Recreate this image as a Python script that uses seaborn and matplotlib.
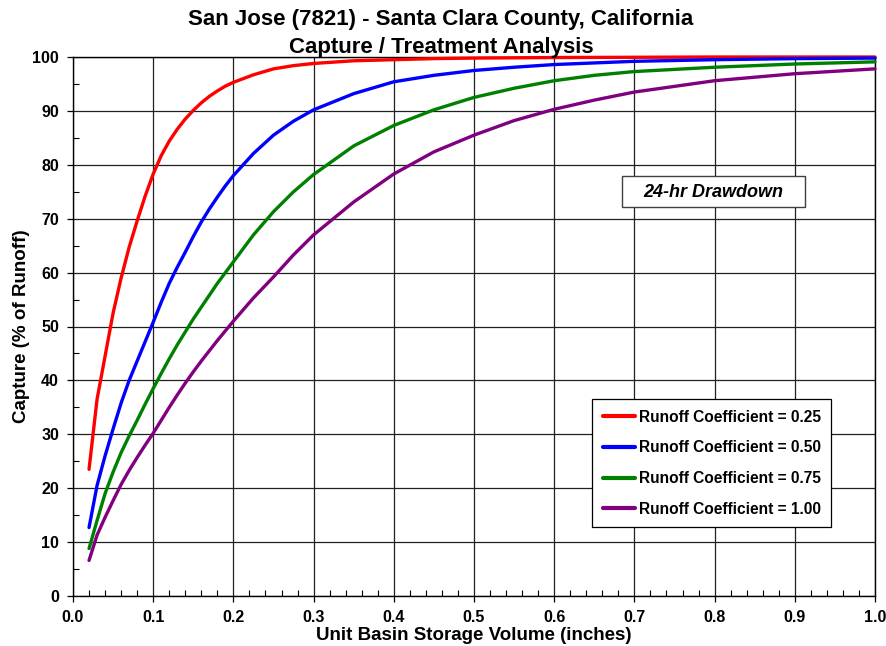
import matplotlib
matplotlib.use("Agg")
import matplotlib.pyplot as plt
from matplotlib.ticker import MultipleLocator, FormatStrFormatter
from matplotlib.patches import Rectangle
import seaborn as sns
import pandas as pd

# storage volume (inches) where the curves were read
volume = [0.02, 0.03, 0.04, 0.05, 0.06, 0.07, 0.08, 0.09, 0.10, 0.11, 0.12, 0.13, 0.14,
          0.15, 0.16, 0.17, 0.18, 0.19, 0.20, 0.225, 0.25, 0.275, 0.30, 0.35, 0.40, 0.45,
          0.50, 0.55, 0.60, 0.65, 0.70, 0.80, 0.90, 1.00]

# capture (% of runoff) per runoff coefficient
cap_025 = [23.5, 36.5, 44.5, 52.5, 59.0, 64.7, 69.6, 74.2, 78.3, 81.7, 84.4, 86.6, 88.5,
           90.1, 91.5, 92.7, 93.7, 94.6, 95.3, 96.7, 97.8, 98.4, 98.8, 99.3, 99.5, 99.7,
           99.8, 99.85, 99.9, 99.92, 99.95, 100.0, 100.0, 100.0]
cap_050 = [12.7, 20.5, 26.0, 31.0, 35.8, 40.0, 43.6, 47.2, 50.8, 54.5, 58.0, 61.0, 63.8,
           66.7, 69.4, 71.8, 74.0, 76.1, 78.0, 82.1, 85.5, 88.1, 90.2, 93.2, 95.4, 96.6,
           97.5, 98.1, 98.6, 98.9, 99.2, 99.5, 99.7, 99.8]
cap_075 = [8.8, 14.0, 19.0, 23.0, 26.6, 29.7, 32.6, 35.6, 38.5, 41.3, 44.0, 46.6, 49.0,
           51.4, 53.6, 55.8, 58.0, 60.0, 62.0, 67.0, 71.3, 75.0, 78.2, 83.5, 87.3, 90.2,
           92.5, 94.2, 95.6, 96.6, 97.3, 98.1, 98.7, 99.1]
cap_100 = [6.6, 11.3, 14.6, 17.7, 20.7, 23.3, 25.7, 28.0, 30.2, 32.6, 35.0, 37.3, 39.5,
           41.6, 43.6, 45.5, 47.4, 49.2, 51.0, 55.3, 59.2, 63.3, 67.0, 73.1, 78.3, 82.4,
           85.5, 88.2, 90.3, 92.0, 93.5, 95.6, 96.9, 97.8]

labels = ["Runoff Coefficient = 0.25", "Runoff Coefficient = 0.50",
          "Runoff Coefficient = 0.75", "Runoff Coefficient = 1.00"]
colors = ["#ff0000", "#0000ff", "#008000", "#800080"]

frames = []
for lab, vals in zip(labels, [cap_025, cap_050, cap_075, cap_100]):
    frames.append(pd.DataFrame({"volume": volume, "capture": vals, "series": lab}))
df = pd.concat(frames, ignore_index=True)

sns.set_style("white")
plt.rcParams["font.family"] = ["Liberation Sans", "DejaVu Sans"]
plt.rcParams["font.weight"] = "bold"
plt.rcParams["text.color"] = "black"
plt.rcParams["axes.labelcolor"] = "black"
plt.rcParams["xtick.color"] = "black"
plt.rcParams["ytick.color"] = "black"

fig = plt.figure(figsize=(8.87, 6.46), dpi=100)
ax = fig.add_axes([73 / 887, 50 / 646, 802 / 887, 539 / 646])

sns.lineplot(data=df, x="volume", y="capture", hue="series", palette=colors,
             linewidth=2.4, ax=ax, legend=True, solid_capstyle="round")
for ln in ax.lines:
    ln.set_clip_on(False)
    ln.set_zorder(3)

ax.set_xlim(0, 1.0)
ax.set_ylim(0, 100)
ax.xaxis.set_major_locator(MultipleLocator(0.1))
ax.xaxis.set_minor_locator(MultipleLocator(0.02))
ax.yaxis.set_major_locator(MultipleLocator(10))
ax.yaxis.set_minor_locator(MultipleLocator(5))
ax.xaxis.set_major_formatter(FormatStrFormatter("%.1f"))
ax.yaxis.set_major_formatter(FormatStrFormatter("%d"))
ax.grid(True, which="major", color="#202020", linewidth=0.9)
ax.set_axisbelow(True)
ax.tick_params(which="major", direction="out", length=4, width=0.9, labelsize=11.5,
               colors="black", bottom=True, left=True, pad=6)
ax.tick_params(which="minor", direction="in", length=4, width=0.8, colors="black",
               bottom=True, left=True)
for t in ax.get_xticklabels() + ax.get_yticklabels():
    t.set_fontweight("bold")
for sp in ax.spines.values():
    sp.set_color("black")
    sp.set_linewidth(1.0)

ax.set_xlabel("Unit Basin Storage Volume (inches)", fontsize=13.5, fontweight="bold")
ax.set_ylabel("Capture (% of Runoff)", fontsize=13.5, fontweight="bold")
ax.xaxis.set_label_coords(0.5, -0.057)
ax.yaxis.set_label_coords(-0.054, 0.5)

fig.text(441 / 887, 1 - 20 / 646, "San Jose (7821) - Santa Clara County, California",
         ha="center", va="center", fontsize=16, fontweight="bold")
fig.text(441 / 887, 1 - 47 / 646, "Capture / Treatment Analysis",
         ha="center", va="center", fontsize=16, fontweight="bold")

# drawdown note box
ax.add_patch(Rectangle((0.6845, 0.7217), 0.2282, 0.0575, transform=ax.transAxes,
                       facecolor="white", edgecolor="#404040", linewidth=1, zorder=4))
ax.text(0.798, 0.7495, "24-hr Drawdown", transform=ax.transAxes, ha="center", va="center",
        fontsize=13, fontweight="bold", fontstyle="italic", zorder=5)

leg = ax.legend(loc="upper left", bbox_to_anchor=(0.647, 0.3655), borderaxespad=0,
                fontsize=11.2, handlelength=2.1, handletextpad=0.2, labelspacing=1.0,
                frameon=True, fancybox=False, edgecolor="black", framealpha=1,
                borderpad=0.7)
leg.get_frame().set_linewidth(0.9)
for t in leg.get_texts():
    t.set_fontweight("bold")
for h in leg.get_lines():
    h.set_linewidth(3)

fig.savefig("out.png", dpi=100)
